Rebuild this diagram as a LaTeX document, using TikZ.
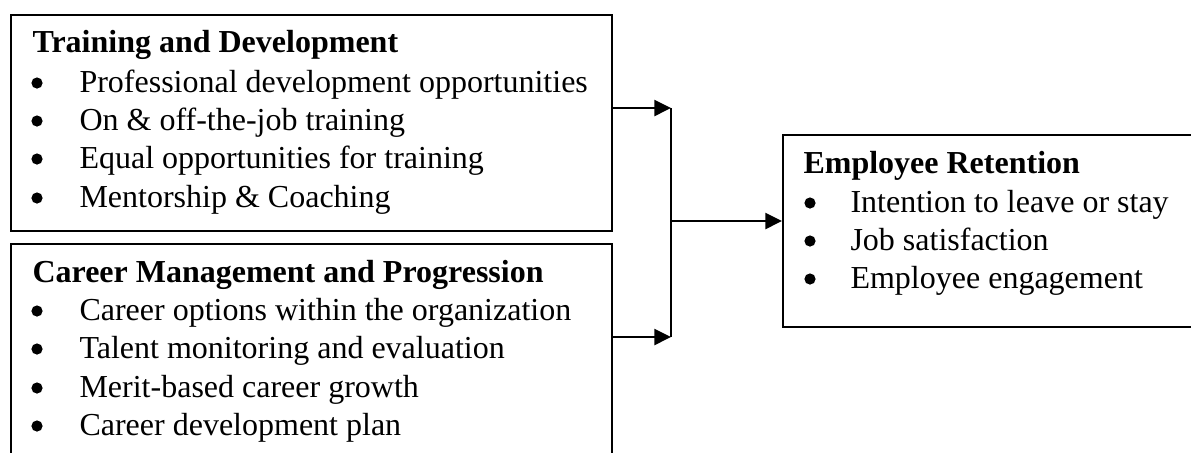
\documentclass[tikz,border=0pt]{standalone}
\usepackage{fontspec}
\setmainfont{Liberation Serif}
\usetikzlibrary{arrows.meta}
\begin{document}
\begin{tikzpicture}[x=0.375pt,y=-0.375pt,
  box/.style={draw, line width=0.75pt, anchor=north west, inner sep=0pt},
  txt/.style={anchor=base west, inner sep=0pt, font=\fontsize{12}{14}\selectfont},
  head/.style={txt, font=\fontsize{12}{14}\selectfont\bfseries},
  bul/.style={circle, fill, inner sep=0pt, minimum size=4.2pt},
  conn/.style={line width=0.75pt},
  arr/.style={conn, -{Triangle[length=6.2pt,width=6pt]}}]
\useasboundingbox (0,0) rectangle (1191,452);
\clip (0,0) rectangle (1191,452);
\fill[white] (0,0) rectangle (1191,452);
% boxes
\node[box, minimum width=225.4pt, minimum height=81pt] (box1) at (10,14) {};
\node[box, minimum width=225.4pt, minimum height=88pt] (box2) at (10,243) {};
\node[box, minimum width=160pt, minimum height=72pt] (box3) at (782,134) {};
% box 1 text
\node[head] (h1) at (32,52) {Training and Development};
\foreach \y/\t [count=\i] in {92/Professional development opportunities,130/On \& off-the-job training,168/Equal opportunities for training,207/Mentorship \& Coaching}{
  \node[bul] (b1\i) at (37,\y-9) {};
  \node[txt] (t1\i) at (79,\y) {\t};
}
% box 2 text
\node[head] (h2) at (32,282) {Career Management and Progression};
\foreach \y/\t [count=\i] in {320/Career options within the organization,358/Talent monitoring and evaluation,397/Merit-based career growth,435/Career development plan}{
  \node[bul] (b2\i) at (37,\y-9) {};
  \node[txt] (t2\i) at (79,\y) {\t};
}
% box 3 text
\node[head] (h3) at (803,173) {Employee Retention};
\foreach \y/\t [count=\i] in {212/Intention to leave or stay,250/Job satisfaction,288/Employee engagement}{
  \node[bul] (b3\i) at (810,\y-9) {};
  \node[txt] (t3\i) at (850,\y) {\t};
}
% connectors
\coordinate (j1) at (671,108);
\coordinate (j2) at (671,337);
\coordinate (jm) at (671,221);
\draw[arr] (box1.east |- j1) -- (j1);
\draw[arr] (box2.east |- j2) -- (j2);
\draw[conn] (j1) -- (j2);
\draw[arr] (jm) -- (box3.west |- jm);
\end{tikzpicture}
\end{document}
